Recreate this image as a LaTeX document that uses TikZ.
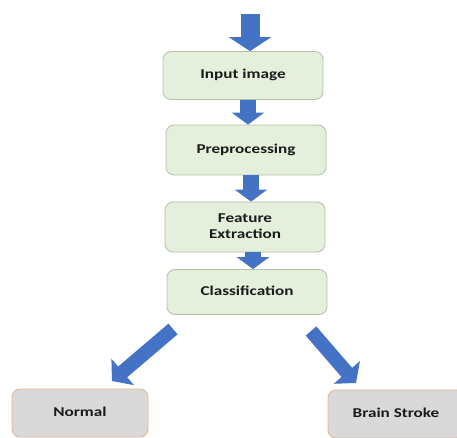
\documentclass[tikz,border=0pt]{standalone}
\usepackage{fontspec}
\usepackage{graphicx}
\setmainfont{Carlito}
\usetikzlibrary{arrows.meta}
\definecolor{boxfill}{HTML}{E4EFDC}
\definecolor{boxline}{HTML}{B4BFAC}
\definecolor{grayfill}{HTML}{D9D9D9}
\definecolor{orangeline}{HTML}{E8B48E}
\definecolor{arrowblue}{HTML}{4472C4}
\definecolor{txt}{HTML}{1A1A1A}
\newcommand{\widetxt}[1]{\scalebox{1.27}[1]{\begin{tabular}{@{}c@{}}#1\end{tabular}}}
\tikzset{
  stagebox/.style={draw=boxline, fill=boxfill, rounded corners=8pt, line width=0.8pt,
    minimum width=160pt, minimum height=48pt, inner sep=0pt,
    font=\fontsize{13.5}{16}\selectfont\bfseries, text=txt},
  resultbox/.style={stagebox, draw=orangeline, fill=grayfill, minimum width=136pt},
  flow/.style={draw=arrowblue, line width=16pt, -{Triangle[width=32pt,length=12pt]}},
  diagflow/.style={draw=arrowblue, line width=14pt, -{Triangle[width=34pt,length=14pt]}}
}
\begin{document}
\begin{tikzpicture}[x=1pt,y=-1pt]
\useasboundingbox (0,0) rectangle (457,438);
\fill[white] (0,0) rectangle (457,438);
\node[stagebox] (in) at (243,75.5) {\widetxt{Input image}};
\node[stagebox, minimum height=50pt] (pre) at (246,150) {\widetxt{Preprocessing}};
\node[stagebox, minimum height=50pt] (fe) at (245,227) {\widetxt{Feature\\Extraction}};
\node[stagebox, minimum height=45pt] (cls) at (247,292) {\widetxt{Classification}};
\node[resultbox] (nor) at (80,413) {\widetxt{Normal}};
\node[resultbox] (bs) at (396,414) {\widetxt{Brain Stroke}};
\coordinate (top) at (250,14);
\coordinate (clsL) at (173,329);
\coordinate (clsR) at (311,331);
\draw[draw=arrowblue, line width=19pt, -{Triangle[width=42pt,length=14pt]}] (top) -- (top |- in.north);
\draw[flow] (in.south -| 248,0) -- (pre.north -| 248,0);
\draw[flow] (pre.south -| 251,0) -- (fe.north -| 251,0);
\draw[flow] (fe.south -| 253,0) -- (cls.north -| 253,0);
\draw[diagflow] (clsL) -- (112,381) coordinate (nortip);
\draw[diagflow] (clsR) -- (356,383) coordinate (bstip);
\end{tikzpicture}
\end{document}
